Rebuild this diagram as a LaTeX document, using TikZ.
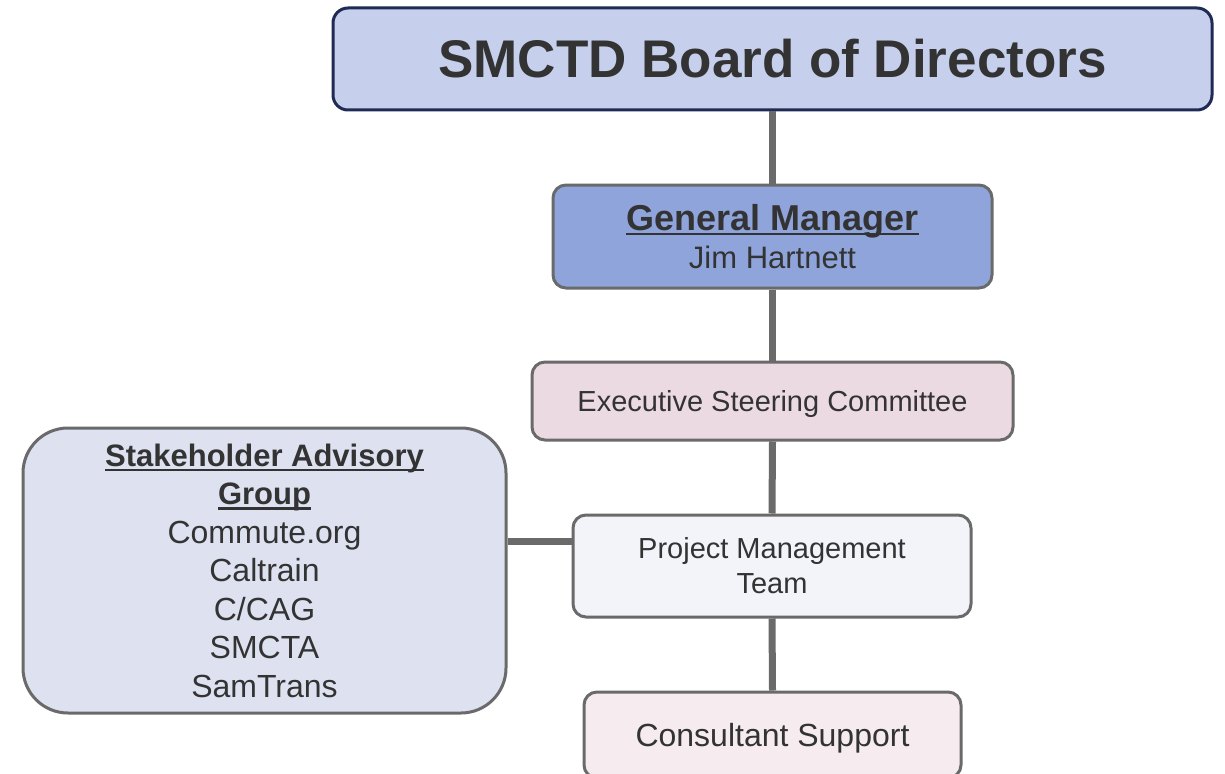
\documentclass[tikz,border=0pt]{standalone}
\usepackage{fontspec}
\setmainfont{Liberation Sans}
\definecolor{txt}{HTML}{333333}
\definecolor{edge}{HTML}{6A6A6A}
\definecolor{navy}{HTML}{1F2A55}
\definecolor{boardfill}{HTML}{C6D0EC}
\definecolor{gmfill}{HTML}{8EA4DB}
\definecolor{escfill}{HTML}{ECDAE3}
\definecolor{pmtfill}{HTML}{F3F4F9}
\definecolor{csfill}{HTML}{F6ECF0}
\definecolor{sagfill}{HTML}{DEE2F0}
\newcommand\thickul[1]{\setbox0\hbox{#1}\rlap{\rule[-5pt]{\wd0}{2.5pt}}\box0}
\begin{document}
\begin{tikzpicture}[x=1pt,y=-1pt,
  orgbox/.style={draw=edge,line width=3pt,rounded corners=13pt,text=txt,align=center,inner sep=0pt},
  link/.style={draw=edge,line width=7pt}]
\useasboundingbox (0,0) rectangle (1225,773);
\clip (0,0) rectangle (1225,773);
\node[orgbox,draw=navy,fill=boardfill,minimum width=879pt,minimum height=102pt,rounded corners=15pt,font=\fontsize{53}{60}\selectfont\bfseries] (board) at (772.5,59) {SMCTD Board of Directors};
\node[orgbox,fill=gmfill,minimum width=439pt,minimum height=103pt] (gm) at (772.5,236.5)
  {{\fontsize{36}{38}\selectfont\bfseries\thickul{General Manager}}\\[7pt]{\fontsize{31}{36}\selectfont Jim Hartnett}};
\node[orgbox,fill=escfill,minimum width=481pt,minimum height=78pt,text depth=0pt,font=\fontsize{29}{35}\selectfont] (esc) at (772.5,401) {Executive Steering Committee};
\node[orgbox,fill=pmtfill,minimum width=398pt,minimum height=102pt,font=\fontsize{29}{35}\selectfont] (pmt) at (772,566) {Project Management\\Team};
\node[orgbox,fill=csfill,minimum width=377pt,minimum height=86pt,text depth=0pt,font=\fontsize{32}{38}\selectfont] (cs) at (772.5,735) {Consultant Support};
\node[orgbox,fill=sagfill,minimum width=483pt,minimum height=285pt,rounded corners=45pt,font=\fontsize{32}{38.5}\selectfont] (sag) at (264.5,570.5)
  {{\fontsize{31}{38.5}\selectfont\bfseries\thickul{Stakeholder Advisory}}\\
   {\fontsize{31}{38.5}\selectfont\bfseries\thickul{Group}}\\
   Commute.org\\Caltrain\\C/CAG\\SMCTA\\SamTrans};
\coordinate (pmtside) at (pmt.west |- 0,541);
\draw[link] (board.south) -- (gm.north);
\draw[link] (gm.south) -- (esc.north);
\draw[link] (esc.south) -- (pmt.north);
\draw[link] (pmt.south) -- (cs.north);
\draw[link] (sag.east |- pmtside) -- (pmtside);
\end{tikzpicture}
\end{document}
